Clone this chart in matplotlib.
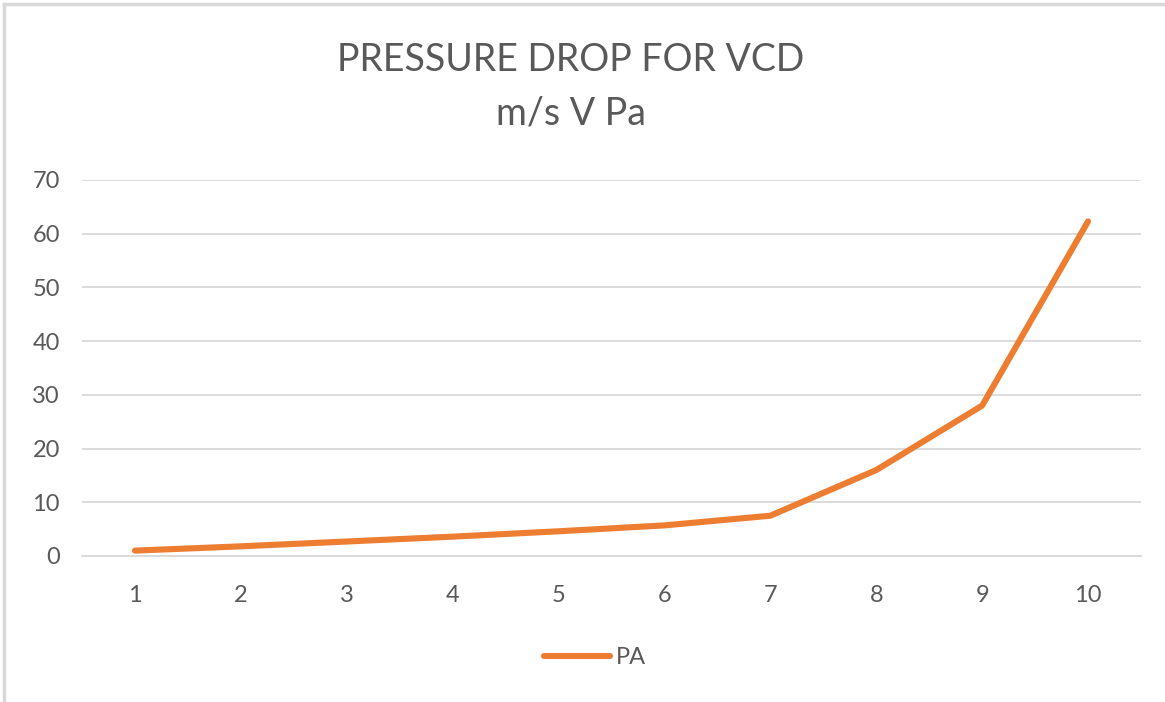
import matplotlib
matplotlib.use("Agg")
import matplotlib.pyplot as plt
from matplotlib.lines import Line2D

categories = ["1", "2", "3", "4", "5", "6", "7", "8", "9", "10"]
pa_values = [1.0, 1.8, 2.7, 3.6, 4.6, 5.7, 7.5, 16.0, 28.0, 62.3]
y_ticks = [0, 10, 20, 30, 40, 50, 60, 70]

W, H = 1165, 702
DPI = 100
plt.rcParams['font.family'] = ['Lato', 'DejaVu Sans']
fig = plt.figure(figsize=(W / DPI, H / DPI), dpi=DPI)
fig.patch.set_facecolor('white')

left, right, top, bottom = 82, 1141, 180, 556
ax = fig.add_axes([left / W, 1 - bottom / H, (right - left) / W, (bottom - top) / H])

xs = list(range(1, len(categories) + 1))
ax.plot(xs, pa_values, color='#ED7D31', lw=4.4, solid_capstyle='round',
        solid_joinstyle='round', label='PA', zorder=3)

ax.set_xlim(0.5, len(categories) + 0.5)
ax.set_ylim(0, 70)
ax.set_yticks(y_ticks)
ax.set_xticks(xs)
ax.set_xticklabels(categories)
ax.grid(axis='y', color='#D9D9D9', lw=1.3)
ax.set_axisbelow(True)
for s in ['top', 'right', 'left']:
    ax.spines[s].set_visible(False)
ax.spines['bottom'].set_color('#D9D9D9')
ax.spines['bottom'].set_linewidth(1.3)
ax.tick_params(axis='both', length=0, labelsize=17, labelcolor='#595959')
ax.tick_params(axis='y', pad=16)
ax.tick_params(axis='x', pad=21)

fig.text(571 / W, 1 - 60 / H, "PRESSURE DROP FOR VCD", ha='center', va='center',
         fontsize=27, color='#595959')
fig.text(571 / W, 1 - 113 / H, "m/s V Pa", ha='center', va='center',
         fontsize=27, color='#595959')

handle = Line2D([0], [0], color='#ED7D31', lw=4.4, solid_capstyle='round')
fig.legend([handle], ['PA'], loc='center', bbox_to_anchor=(595 / W, 1 - 658 / H),
           frameon=False, fontsize=17, labelcolor='#595959', handlelength=2.8,
           handletextpad=0.25)

# outer chart border (top and left edges visible)
fig.add_artist(Line2D([4 / W, 1], [1 - 4 / H, 1 - 4 / H], color='#D9D9D9', lw=2.5,
                      transform=fig.transFigure))
fig.add_artist(Line2D([4 / W, 4 / W], [0, 1 - 4 / H], color='#D9D9D9', lw=2.5,
                      transform=fig.transFigure))

fig.savefig('out.png', dpi=DPI, facecolor='white')
